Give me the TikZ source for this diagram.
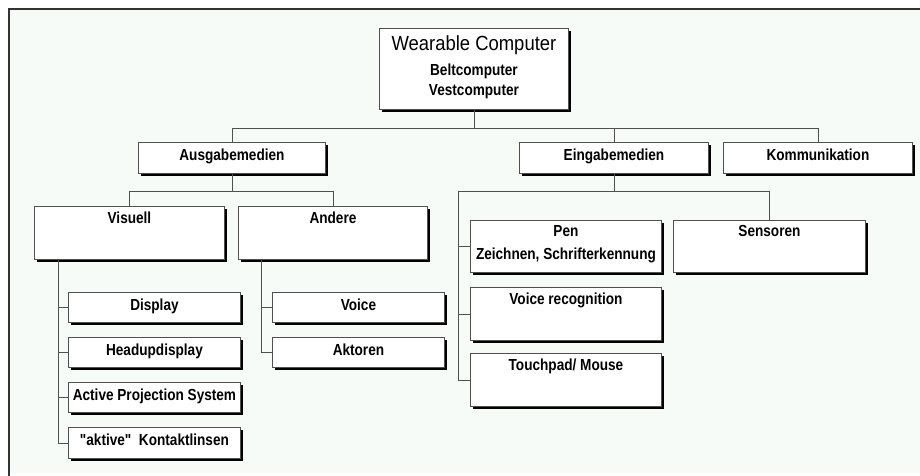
\documentclass[tikz,border=0pt]{standalone}
\usepackage{fontspec}
\setmainfont{Liberation Sans}
\newfontfamily\lblfont[FakeStretch=0.85]{Liberation Sans}
\newfontfamily\ttlfont[FakeStretch=0.9]{Liberation Sans}
\usetikzlibrary{shadows,calc}
\definecolor{bgc}{RGB}{247,251,248}
\definecolor{linec}{RGB}{80,80,80}
\begin{document}
\begin{tikzpicture}[x=1pt,y=-1pt,
  box/.style={draw=linec, line width=0.9pt, fill=white, inner sep=0pt, anchor=north west,
    drop shadow={shadow xshift=3pt, shadow yshift=-3pt, fill=black, opacity=1}},
  lbl/.style={font=\lblfont\bfseries\fontsize{16}{18}\selectfont, inner sep=0pt, text=black, anchor=mid},
  ttl/.style={font=\ttlfont\fontsize{20.5}{23}\selectfont, inner sep=0pt, text=black, anchor=mid},
  conn/.style={draw=linec, line width=0.9pt}]
\useasboundingbox (0,0) rectangle (920,476);
\fill[bgc] (10,10) rectangle (920,473);
\draw[line width=2pt, black!80] (9,476) -- (9,9) -- (920,9);

% boxes
\node[box, minimum width=189pt, minimum height=81pt] (wc) at (379,28) {};
\node[box, minimum width=187pt, minimum height=31pt] (aus) at (138,142) {};
\node[box, minimum width=189pt, minimum height=31pt] (ein) at (519,142) {};
\node[box, minimum width=189pt, minimum height=31pt] (kom) at (723,142) {};
\node[box, minimum width=190pt, minimum height=53pt] (vis) at (34,206) {};
\node[box, minimum width=189pt, minimum height=53pt] (and) at (238,206) {};
\node[box, minimum width=172pt, minimum height=30pt] (disp) at (68,292) {};
\node[box, minimum width=172pt, minimum height=30pt] (head) at (68,337) {};
\node[box, minimum width=172pt, minimum height=30pt] (act) at (68,382) {};
\node[box, minimum width=172pt, minimum height=31pt] (kon) at (68,427) {};
\node[box, minimum width=172pt, minimum height=30pt] (voi) at (272,292) {};
\node[box, minimum width=172pt, minimum height=30pt] (akt) at (272,337) {};
\node[box, minimum width=191pt, minimum height=52pt] (pen) at (470,220) {};
\node[box, minimum width=191pt, minimum height=53pt] (vrec) at (470,287) {};
\node[box, minimum width=191pt, minimum height=53pt] (tch) at (470,353) {};
\node[box, minimum width=192pt, minimum height=52pt] (sens) at (673,220) {};

% connectors
\coordinate (b1) at (0,128);
\coordinate (b2) at (0,191);
\coordinate (eL) at (458,191);
\coordinate (vL) at (58,0);
\coordinate (aL) at (261,0);
\draw[conn] (wc.south) -- (wc.south |- b1);
\draw[conn] (aus.north) -- (aus.north |- b1) -- (kom.north |- b1) -- (kom.north);
\draw[conn] (ein.north |- b1) -- (ein.north);
\draw[conn] (aus.south) -- (aus.south |- b2);
\draw[conn] (vis.north) -- (vis.north |- b2) -- (and.north |- b2) -- (and.north);
\draw[conn] (ein.south) -- (ein.south |- b2);
\draw[conn] (sens.north) -- (sens.north |- b2) -- (eL) -- (eL |- tch.west) -- (tch.west);
\draw[conn] (eL |- pen.west) -- (pen.west);
\draw[conn] (eL |- vrec.west) -- (vrec.west);
\draw[conn] (vL |- vis.south) -- (vL |- kon.west) -- (kon.west);
\draw[conn] (vL |- disp.west) -- (disp.west);
\draw[conn] (vL |- head.west) -- (head.west);
\draw[conn] (vL |- act.west) -- (act.west);
\draw[conn] (aL |- and.south) -- (aL |- akt.west) -- (akt.west);
\draw[conn] (aL |- voi.west) -- (voi.west);

% texts
\node[ttl] (wct) at ($(wc.north)+(0,20)$) {Wearable Computer};
\node[lbl] (wcb) at ($(wc.north)+(0,45)$) {Beltcomputer};
\node[lbl] (wcv) at ($(wc.north)+(0,65)$) {Vestcomputer};
\node[lbl] (aust) at (aus.center) {Ausgabemedien};
\node[lbl] (eint) at (ein.center) {Eingabemedien};
\node[lbl] (komt) at (kom.center) {Kommunikation};
\node[lbl] (vist) at ($(vis.north)+(0,15)$) {Visuell};
\node[lbl] (andt) at ($(and.north)+(0,15)$) {Andere};
\node[lbl] (dispt) at (disp.center) {Display};
\node[lbl] (headt) at (head.center) {Headupdisplay};
\node[lbl] (actt) at (act.center) {Active Projection System};
\node[lbl] (kont) at (kon.center) {"aktive"~~Kontaktlinsen};
\node[lbl] (voit) at (voi.center) {Voice};
\node[lbl] (aktt) at (akt.center) {Aktoren};
\node[lbl] (pent) at ($(pen.north)+(0,14)$) {Pen};
\node[lbl] (pent2) at ($(pen.north)+(0,37)$) {Zeichnen, Schrifterkennung};
\node[lbl] (vrect) at ($(vrec.north)+(0,15)$) {Voice recognition};
\node[lbl] (tcht) at ($(tch.north)+(0,15)$) {Touchpad/ Mouse};
\node[lbl] (senst) at ($(sens.north)+(0,14)$) {Sensoren};
\end{tikzpicture}
\end{document}
